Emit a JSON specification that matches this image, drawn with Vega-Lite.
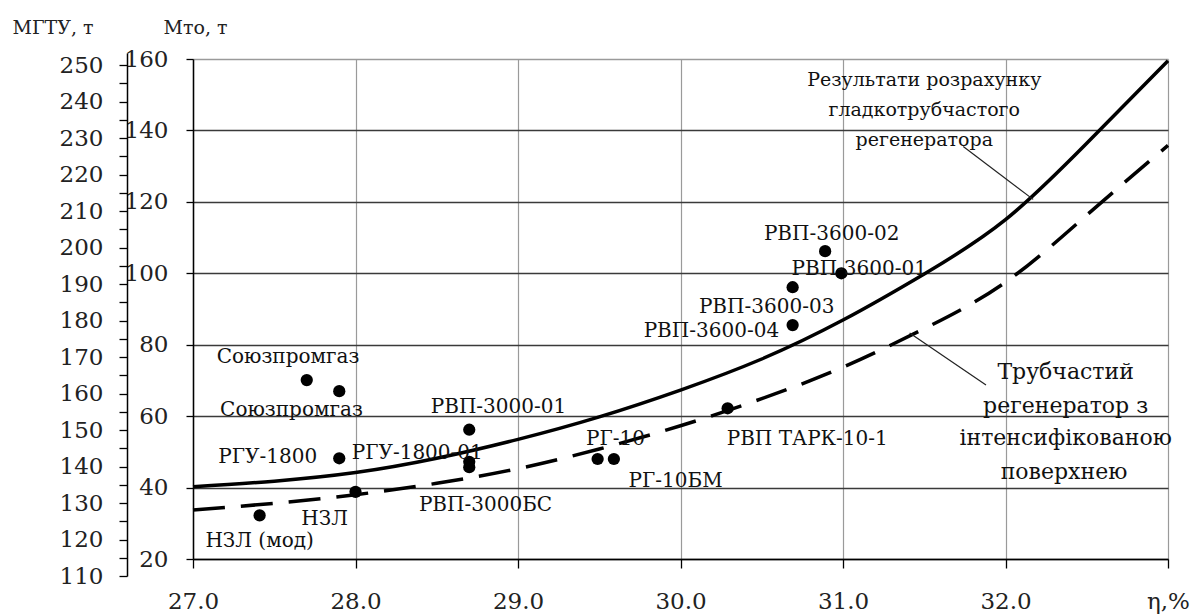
{
  "$schema": "https://vega.github.io/schema/vega-lite/v6.json",
  "width": 975,
  "height": 500,
  "autosize": {"type": "none"},
  "padding": {"left": 193, "top": 59, "right": 27, "bottom": 57},
  "background": "white",
  "config": {"view": {"stroke": null}, "font": "DejaVu Serif"},
  "datasets": {
    "curves": [
      {"series": "smooth", "eta": 27.0, "m": 40.2},
      {"series": "smooth", "eta": 27.5, "m": 41.8},
      {"series": "smooth", "eta": 28.0, "m": 44.2},
      {"series": "smooth", "eta": 28.5, "m": 48.2},
      {"series": "smooth", "eta": 29.0, "m": 53.5},
      {"series": "smooth", "eta": 29.5, "m": 59.8},
      {"series": "smooth", "eta": 30.0, "m": 67.3},
      {"series": "smooth", "eta": 30.5, "m": 76.0},
      {"series": "smooth", "eta": 31.0, "m": 86.9},
      {"series": "smooth", "eta": 31.5, "m": 99.8},
      {"series": "smooth", "eta": 32.0, "m": 115.0},
      {"series": "smooth", "eta": 32.5, "m": 136.4},
      {"series": "smooth", "eta": 33.0, "m": 159.5},
      {"series": "intens", "eta": 27.0, "m": 33.7},
      {"series": "intens", "eta": 27.5, "m": 35.6},
      {"series": "intens", "eta": 28.0, "m": 38.0},
      {"series": "intens", "eta": 28.5, "m": 41.2},
      {"series": "intens", "eta": 29.0, "m": 45.3},
      {"series": "intens", "eta": 29.5, "m": 50.8},
      {"series": "intens", "eta": 30.0, "m": 57.3},
      {"series": "intens", "eta": 30.5, "m": 64.9},
      {"series": "intens", "eta": 31.0, "m": 73.7},
      {"series": "intens", "eta": 31.5, "m": 84.5},
      {"series": "intens", "eta": 32.0, "m": 97.5},
      {"series": "intens", "eta": 32.5, "m": 116.3},
      {"series": "intens", "eta": 33.0, "m": 135.8}
    ],
    "points": [
      {"name": "Союзпромгаз", "eta": 27.70, "m": 70.1},
      {"name": "Союзпромгаз", "eta": 27.90, "m": 67.0},
      {"name": "РГУ-1800", "eta": 27.90, "m": 48.2},
      {"name": "НЗЛ", "eta": 28.00, "m": 38.8},
      {"name": "НЗЛ (мод)", "eta": 27.41, "m": 32.2},
      {"name": "РВП-3000-01", "eta": 28.70, "m": 56.2},
      {"name": "РГУ-1800-01", "eta": 28.70, "m": 47.2},
      {"name": "РВП-3000БС", "eta": 28.70, "m": 45.7},
      {"name": "РГ-10", "eta": 29.49, "m": 48.0},
      {"name": "РГ-10БМ", "eta": 29.59, "m": 48.0},
      {"name": "РВП ТАРК-10-1", "eta": 30.29, "m": 62.2},
      {"name": "РВП-3600-04", "eta": 30.69, "m": 85.5},
      {"name": "РВП-3600-03", "eta": 30.69, "m": 96.1},
      {"name": "РВП-3600-02", "eta": 30.89, "m": 106.2},
      {"name": "РВП-3600-01", "eta": 30.99, "m": 100.0}
    ],
    "labels": [
      {"text": "Союзпромгаз", "eta": 27.585, "m": 74.8},
      {"text": "Союзпромгаз", "eta": 27.606, "m": 60.0},
      {"text": "РГУ-1800", "eta": 27.46, "m": 46.8},
      {"text": "РГУ-1800-01", "eta": 28.38, "m": 47.9},
      {"text": "РВП-3000-01", "eta": 28.88, "m": 60.8},
      {"text": "РВП-3000БС", "eta": 28.80, "m": 33.5},
      {"text": "НЗЛ", "eta": 27.81, "m": 29.5},
      {"text": "НЗЛ (мод)", "eta": 27.41, "m": 23.4},
      {"text": "РГ-10", "eta": 29.60, "m": 51.9},
      {"text": "РГ-10БМ", "eta": 29.97, "m": 40.2},
      {"text": "РВП ТАРК-10-1", "eta": 30.78, "m": 51.9},
      {"text": "РВП-3600-04", "eta": 30.19, "m": 82.3},
      {"text": "РВП-3600-03", "eta": 30.53, "m": 88.8},
      {"text": "РВП-3600-02", "eta": 30.93, "m": 109.3},
      {"text": "РВП-3600-01", "eta": 31.10, "m": 99.5}
    ],
    "note1": [
      {"text": "Результати розрахунку", "eta": 31.5, "m": 152.5},
      {"text": "гладкотрубчастого", "eta": 31.5, "m": 144.1},
      {"text": "регенератора", "eta": 31.5, "m": 135.7}
    ],
    "note2": [
      {"text": "Трубчастий", "eta": 32.37, "m": 70.4},
      {"text": "регенератор з", "eta": 32.37, "m": 61.0},
      {"text": "інтенсифікованою", "eta": 32.37, "m": 51.9},
      {"text": "поверхнею", "eta": 32.36, "m": 42.5}
    ],
    "leaders": [
      {"eta": 31.74, "m": 135.5, "eta2": 32.17, "m2": 120.7},
      {"eta": 31.41, "m": 83.3, "eta2": 31.88, "m2": 68.7}
    ],
    "gtu": [
      {"mg": 110},
      {"mg": 250}
    ]
  },
  "layer": [
    {
      "encoding": {
        "x": {
          "field": "eta", "type": "quantitative",
          "scale": {"domain": [27, 33], "nice": false, "zero": false},
          "axis": {
            "values": [27, 28, 29, 30, 31, 32, 33],
            "labelExpr": "datum.value == 33 ? 'η,%' : format(datum.value, '.1f')",
            "title": null,
            "grid": true, "gridColor": "#9a9a9a", "gridWidth": 1.2,
            "domainColor": "#000", "domainWidth": 1.5,
            "tickColor": "#000", "tickSize": 9, "tickWidth": 1.3,
            "labelFont": "DejaVu Serif", "labelFontSize": 23, "labelColor": "#222",
            "labelPadding": 22, "labelFlush": false, "labelOverlap": false
          }
        },
        "y": {
          "field": "m", "type": "quantitative",
          "scale": {"domain": [20, 160], "nice": false, "zero": false},
          "axis": {
            "values": [20, 40, 60, 80, 100, 120, 140, 160],
            "title": "Mто, т",
            "titleAngle": 0, "titleAlign": "left", "titleBaseline": "alphabetic",
            "titleX": -30, "titleY": -26,
            "titleFont": "DejaVu Serif", "titleFontSize": 19, "titleFontWeight": "normal", "titleColor": "#222",
            "grid": true,
            "gridColor": {"condition": {"test": "datum.value === 160", "value": "#9a9a9a"}, "value": "#3a3a3a"},
            "gridWidth": 1.5,
            "domainColor": "#000", "domainWidth": 1.5,
            "tickColor": "#000", "tickSize": 7, "tickWidth": 1.3,
            "labelFont": "DejaVu Serif", "labelFontSize": 23, "labelColor": "#222",
            "labelPadding": 18, "labelFlush": false, "labelOverlap": false
          }
        }
      },
      "layer": [
        {
          "data": {"name": "curves"},
          "transform": [{"filter": "datum.series === 'smooth'"}],
          "mark": {"type": "line", "color": "#000", "strokeWidth": 3.5, "interpolate": "natural"}
        },
        {
          "data": {"name": "curves"},
          "transform": [{"filter": "datum.series === 'intens'"}],
          "mark": {"type": "line", "color": "#000", "strokeWidth": 3.5, "interpolate": "natural", "strokeDash": [32, 16]}
        },
        {
          "data": {"name": "leaders"},
          "mark": {"type": "rule", "color": "#222", "strokeWidth": 1.2},
          "encoding": {"x2": {"field": "eta2"}, "y2": {"field": "m2"}}
        },
        {
          "data": {"name": "points"},
          "mark": {"type": "circle", "color": "#000", "opacity": 1, "size": 150}
        },
        {
          "data": {"name": "labels"},
          "mark": {"type": "text", "font": "DejaVu Serif", "fontSize": 20, "color": "#111", "align": "center", "baseline": "alphabetic"},
          "encoding": {"text": {"field": "text"}}
        },
        {
          "data": {"name": "note1"},
          "mark": {"type": "text", "font": "DejaVu Serif", "fontSize": 19, "color": "#111", "align": "center", "baseline": "alphabetic"},
          "encoding": {"text": {"field": "text"}}
        },
        {
          "data": {"name": "note2"},
          "mark": {"type": "text", "font": "DejaVu Serif", "fontSize": 22, "color": "#111", "align": "center", "baseline": "alphabetic"},
          "encoding": {"text": {"field": "text"}}
        }
      ]
    },
    {
      "data": {"name": "gtu"},
      "mark": {"type": "point", "opacity": 0},
      "encoding": {
        "y": {
          "field": "mg", "type": "quantitative",
          "scale": {"domain": [110, 253.3], "range": [517, -6], "nice": false, "zero": false},
          "axis": {
            "orient": "left", "offset": 66,
            "values": [110, 115, 120, 125, 130, 135, 140, 145, 150, 155, 160, 165, 170, 175, 180, 185, 190, 195, 200, 205, 210, 215, 220, 225, 230, 235, 240, 245, 250],
            "labelExpr": "datum.value % 10 == 0 ? datum.label : ''",
            "title": "MГТУ, т",
            "titleAngle": 0, "titleAlign": "left", "titleBaseline": "alphabetic",
            "titleX": -115, "titleY": -26,
            "titleFont": "DejaVu Serif", "titleFontSize": 19, "titleFontWeight": "normal", "titleColor": "#222",
            "grid": false,
            "domainColor": "#000", "domainWidth": 1.5,
            "tickColor": "#000", "tickSize": 8, "tickWidth": 1.3,
            "labelFont": "DejaVu Serif", "labelFontSize": 23, "labelColor": "#222",
            "labelPadding": 16, "labelFlush": false, "labelOverlap": false
          }
        }
      }
    }
  ],
  "resolve": {"scale": {"y": "independent"}, "axis": {"y": "independent"}}
}
